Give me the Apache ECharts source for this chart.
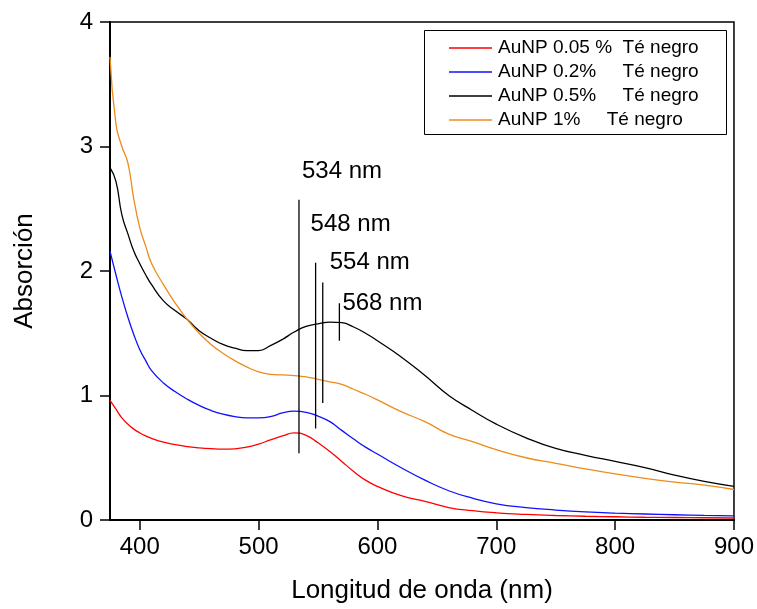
<!DOCTYPE html>
<html>
<head>
<meta charset="utf-8">
<script src="https://cdn.jsdelivr.net/npm/echarts@6/dist/echarts.min.js"></script>
<style>
  html, body { margin: 0; padding: 0; background: #ffffff; }
  #main { width: 757px; height: 609px; }
</style>
</head>
<body>
<div id="main"></div>
<script>
// UV-Vis absorption spectra of gold nanoparticles in black tea
const wavelength = [375, 380, 385, 390, 395, 400, 405, 410, 420, 430, 440, 450, 460, 470, 480, 490, 500,
  510, 520, 530, 540, 550, 560, 570, 580, 590, 600, 620, 640, 660, 680, 700, 725, 750, 775, 800,
  825, 850, 875, 900];

const aunp005 = [0.96, 0.89, 0.82, 0.77, 0.73, 0.70, 0.675, 0.655, 0.625, 0.605, 0.59, 0.58, 0.573, 0.569, 0.572, 0.585, 0.61,
  0.643, 0.675, 0.70, 0.68, 0.62, 0.55, 0.47, 0.39, 0.32, 0.27, 0.195, 0.15, 0.10, 0.075, 0.058, 0.045, 0.036, 0.03, 0.026,
  0.022, 0.02, 0.018, 0.016];

const aunp02 = [2.16, 1.97, 1.79, 1.63, 1.49, 1.37, 1.28, 1.20, 1.10, 1.03, 0.97, 0.92, 0.88, 0.85, 0.83, 0.82, 0.82,
  0.83, 0.86, 0.875, 0.865, 0.835, 0.79, 0.72, 0.65, 0.585, 0.53, 0.42, 0.32, 0.235, 0.175, 0.13, 0.10, 0.08, 0.065, 0.055,
  0.048, 0.042, 0.037, 0.033];

const aunp05 = [2.83, 2.72, 2.45, 2.30, 2.16, 2.06, 1.97, 1.89, 1.76, 1.68, 1.61, 1.52, 1.46, 1.41, 1.38, 1.36, 1.36,
  1.40, 1.45, 1.51, 1.555, 1.575, 1.59, 1.585, 1.55, 1.50, 1.44, 1.31, 1.16, 1.00, 0.88, 0.77, 0.66, 0.575, 0.52, 0.47,
  0.42, 0.36, 0.31, 0.27];

const aunp1 = [3.72, 3.18, 3.00, 2.87, 2.58, 2.35, 2.20, 2.06, 1.89, 1.74, 1.61, 1.50, 1.41, 1.34, 1.28, 1.23, 1.19,
  1.17, 1.165, 1.16, 1.15, 1.13, 1.11, 1.09, 1.05, 1.01, 0.965, 0.87, 0.79, 0.69, 0.63, 0.565, 0.50, 0.455, 0.41, 0.37,
  0.335, 0.305, 0.28, 0.245];

const seriesNames = [
  'AuNP 0.05 %  Té negro',
  'AuNP 0.2%     Té negro',
  'AuNP 0.5%     Té negro',
  'AuNP 1%     Té negro'
];
const seriesValues = [aunp005, aunp02, aunp05, aunp1];
const seriesColors = ['#ff0000', '#1010ff', '#000000', '#ec8c1a'];

const xTicks = [400, 500, 600, 700, 800, 900];

// Plasmon peak markers: wavelength and vertical extent of each marker line
const peakNm = [534, 548, 554, 568];
const peakTop = [2.572, 2.066, 1.907, 1.741];
const peakBottom = [0.536, 0.734, 0.939, 1.44];
// Label offset (px) from the top of each marker line: [dx to text left, dy to text middle]
const peakLabelOffset = [[3, -28], [-5, -38], [7, -20], [3, 0]];

const FONT = '"Liberation Sans", Arial, sans-serif';

const chart = echarts.init(document.getElementById('main'), null, { renderer: 'canvas' });

const spectra = seriesValues.map((vals, i) => ({
  name: seriesNames[i],
  type: 'line',
  data: wavelength.map((w, k) => [w, vals[k]]),
  symbol: 'none',
  smooth: 0.5,
  lineStyle: { color: seriesColors[i], width: 1.3 },
  itemStyle: { color: seriesColors[i] },
  z: 3
}));

const markers = peakNm.map((nm, i) => ({
  name: 'peak' + nm,
  type: 'line',
  data: [[nm, peakTop[i]], [nm, peakBottom[i]]],
  symbol: 'none',
  lineStyle: { color: '#000000', width: 1.3 },
  silent: true,
  z: 4
}));

chart.setOption({
  animation: false,
  backgroundColor: '#ffffff',
  grid: {
    left: 110, right: 19, top: 22, bottom: 81,
    show: true, borderColor: '#000000', borderWidth: 1.5, backgroundColor: 'transparent'
  },
  legend: {
    data: seriesNames,
    orient: 'vertical',
    left: 449, top: 38,
    padding: 0,
    itemGap: 4,
    icon: 'rect',
    itemWidth: 43,
    itemHeight: 1.5,
    textStyle: { fontFamily: FONT, fontSize: 19, color: '#000000', lineHeight: 20, padding: [0, 0, 0, 1] },
    selectedMode: false,
    z: 10
  },
  xAxis: {
    type: 'value',
    min: 375, max: 900,
    name: 'Longitud de onda (nm)',
    nameLocation: 'middle',
    nameGap: 58,
    nameTextStyle: { fontFamily: FONT, fontSize: 26, color: '#000000' },
    axisLine: { show: true, onZero: false, lineStyle: { color: '#000000', width: 2 } },
    axisTick: { show: true, inside: false, length: 10, customValues: xTicks, lineStyle: { color: '#000000', width: 1.5 } },
    axisLabel: { customValues: xTicks, margin: 15, fontFamily: FONT, fontSize: 24, color: '#000000' },
    splitLine: { show: false }
  },
  yAxis: {
    type: 'value',
    min: 0, max: 4, interval: 1,
    name: 'Absorción',
    nameLocation: 'middle',
    nameGap: 72,
    nameTextStyle: { fontFamily: FONT, fontSize: 26, color: '#000000' },
    axisLine: { show: true, onZero: false, lineStyle: { color: '#000000', width: 2 } },
    axisTick: { show: true, inside: false, length: 10, lineStyle: { color: '#000000', width: 1.5 } },
    axisLabel: { margin: 17, fontFamily: FONT, fontSize: 24, color: '#000000' },
    splitLine: { show: false }
  },
  series: spectra.concat(markers)
});

// Legend frame and peak labels placed from the marker values
const labels = peakNm.map((nm, i) => {
  const p = chart.convertToPixel({ gridIndex: 0 }, [nm, peakTop[i]]);
  return {
    type: 'text',
    x: p[0] + peakLabelOffset[i][0],
    y: p[1] + peakLabelOffset[i][1],
    style: {
      text: nm + ' nm',
      fontFamily: FONT, fontSize: 24, fill: '#000000',
      textAlign: 'left', textVerticalAlign: 'middle'
    },
    z: 10
  };
});

chart.setOption({
  graphic: [{
    type: 'rect',
    shape: { x: 424.5, y: 30.5, width: 302, height: 104 },
    style: { fill: 'none', stroke: '#000000', lineWidth: 1 },
    z: 1
  }].concat(labels)
});
</script>
</body>
</html>
